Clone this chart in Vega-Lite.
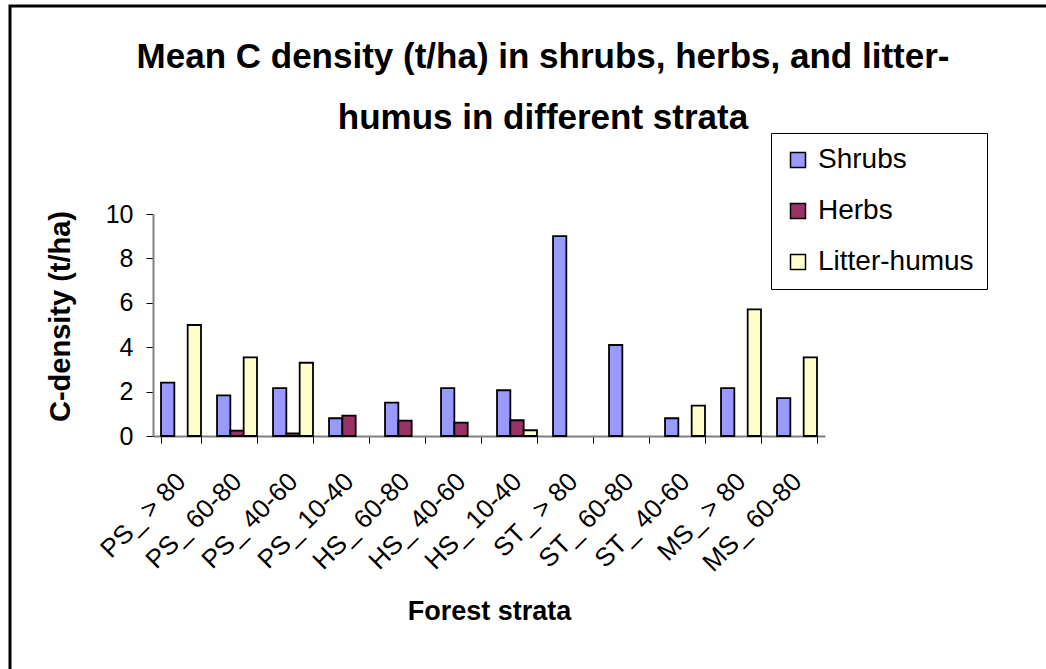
{
  "$schema": "https://vega.github.io/schema/vega-lite/v6.json",
  "width": 672,
  "height": 222,
  "autosize": {"type": "none"},
  "padding": {"left": 153, "top": 214, "right": 221, "bottom": 233},
  "background": "white",
  "config": {
    "font": "Liberation Sans",
    "view": {"stroke": null},
    "axis": {"labelColor": "black", "titleColor": "black", "labelFont": "Liberation Sans", "titleFont": "Liberation Sans"},
    "legend": {"strokeColor": "black", "padding": 13, "fillColor": "white"}
  },
  "title": {
    "text": ["Mean C density (t/ha) in shrubs, herbs, and litter-", "humus in different strata"],
    "font": "Liberation Sans",
    "fontSize": 35,
    "fontWeight": "bold",
    "color": "black",
    "anchor": "middle",
    "frame": "group",
    "dx": 54,
    "dy": 166,
    "lineHeight": 61,
    "baseline": "bottom",
    "offset": 0
  },
  "layer": [
    {
      "data": {"values": [{"frame": "chart border"}]},
      "mark": {"type": "rect", "fill": null, "stroke": "black", "strokeWidth": 3},
      "encoding": {
        "x": {"value": -143},
        "x2": {"value": 1000},
        "y": {"value": -208},
        "y2": {"value": 600}
      }
    },
    {
      "data": {
        "values": [
          {"stratum": "PS_ > 80", "component": "Shrubs", "c": 2.4},
          {"stratum": "PS_ > 80", "component": "Herbs", "c": 0},
          {"stratum": "PS_ > 80", "component": "Litter-humus", "c": 5.0},
          {"stratum": "PS_ 60-80", "component": "Shrubs", "c": 1.83},
          {"stratum": "PS_ 60-80", "component": "Herbs", "c": 0.24},
          {"stratum": "PS_ 60-80", "component": "Litter-humus", "c": 3.54},
          {"stratum": "PS_ 40-60", "component": "Shrubs", "c": 2.16},
          {"stratum": "PS_ 40-60", "component": "Herbs", "c": 0.12},
          {"stratum": "PS_ 40-60", "component": "Litter-humus", "c": 3.3},
          {"stratum": "PS_ 10-40", "component": "Shrubs", "c": 0.8},
          {"stratum": "PS_ 10-40", "component": "Herbs", "c": 0.92},
          {"stratum": "PS_ 10-40", "component": "Litter-humus", "c": 0},
          {"stratum": "HS_ 60-80", "component": "Shrubs", "c": 1.5},
          {"stratum": "HS_ 60-80", "component": "Herbs", "c": 0.69},
          {"stratum": "HS_ 60-80", "component": "Litter-humus", "c": 0},
          {"stratum": "HS_ 40-60", "component": "Shrubs", "c": 2.16},
          {"stratum": "HS_ 40-60", "component": "Herbs", "c": 0.6},
          {"stratum": "HS_ 40-60", "component": "Litter-humus", "c": 0},
          {"stratum": "HS_ 10-40", "component": "Shrubs", "c": 2.06},
          {"stratum": "HS_ 10-40", "component": "Herbs", "c": 0.71},
          {"stratum": "HS_ 10-40", "component": "Litter-humus", "c": 0.26},
          {"stratum": "ST_ > 80", "component": "Shrubs", "c": 9.0},
          {"stratum": "ST_ > 80", "component": "Herbs", "c": 0},
          {"stratum": "ST_ > 80", "component": "Litter-humus", "c": 0},
          {"stratum": "ST_ 60-80", "component": "Shrubs", "c": 4.1},
          {"stratum": "ST_ 60-80", "component": "Herbs", "c": 0},
          {"stratum": "ST_ 60-80", "component": "Litter-humus", "c": 0},
          {"stratum": "ST_ 40-60", "component": "Shrubs", "c": 0.8},
          {"stratum": "ST_ 40-60", "component": "Herbs", "c": 0},
          {"stratum": "ST_ 40-60", "component": "Litter-humus", "c": 1.37},
          {"stratum": "MS_ > 80", "component": "Shrubs", "c": 2.16},
          {"stratum": "MS_ > 80", "component": "Herbs", "c": 0},
          {"stratum": "MS_ > 80", "component": "Litter-humus", "c": 5.7},
          {"stratum": "MS_ 60-80", "component": "Shrubs", "c": 1.71},
          {"stratum": "MS_ 60-80", "component": "Herbs", "c": 0},
          {"stratum": "MS_ 60-80", "component": "Litter-humus", "c": 3.54}
        ]
      },
      "transform": [{"filter": "datum.c > 0"}],
      "mark": {"type": "bar", "stroke": "black", "strokeWidth": 1.8},
      "encoding": {
        "x": {
          "field": "stratum",
          "type": "nominal",
          "sort": ["PS_ > 80", "PS_ 60-80", "PS_ 40-60", "PS_ 10-40", "HS_ 60-80", "HS_ 40-60", "HS_ 10-40", "ST_ > 80", "ST_ 60-80", "ST_ 40-60", "MS_ > 80", "MS_ 60-80"],
          "scale": {"paddingInner": 0.286, "paddingOuter": 0.143},
          "axis": {
            "title": "Forest strata",
            "titleFontSize": 27,
            "titleFontWeight": "bold",
            "titleBaseline": "alphabetic",
            "titleY": 183,
            "labelAngle": -45,
            "labelAlign": "right",
            "labelBaseline": "middle",
            "labelFontSize": 26,
            "labelPadding": 34,
            "tickBand": "extent",
            "tickSize": 7,
            "tickColor": "black",
            "domainColor": "#808080",
            "domainWidth": 2
          }
        },
        "xOffset": {
          "field": "component",
          "type": "nominal",
          "sort": ["Shrubs", "Herbs", "Litter-humus"],
          "scale": {"domain": ["Shrubs", "Herbs", "Litter-humus"], "paddingInner": 0, "paddingOuter": 0}
        },
        "y": {
          "field": "c",
          "type": "quantitative",
          "scale": {"domain": [0, 10], "nice": false},
          "axis": {
            "title": "C-density (t/ha)",
            "titleFontSize": 29,
            "titleFontWeight": "bold",
            "titleAngle": -90,
            "titleBaseline": "middle",
            "titleAlign": "center",
            "titleX": -93,
            "titleY": 102,
            "values": [0, 2, 4, 6, 8, 10],
            "grid": false,
            "labelFontSize": 25,
            "labelPadding": 13,
            "tickSize": 7,
            "tickColor": "black",
            "domainColor": "#808080",
            "domainWidth": 2
          }
        },
        "color": {
          "field": "component",
          "type": "nominal",
          "scale": {"domain": ["Shrubs", "Herbs", "Litter-humus"], "range": ["#9999FF", "#993366", "#FFFFCC"]},
          "legend": {
            "title": null,
            "orient": "none",
            "legendX": 618,
            "legendY": -81,
            "symbolType": "square",
            "symbolSize": 225,
            "symbolStrokeColor": "black",
            "symbolStrokeWidth": 1.5,
            "labelFontSize": 28,
            "labelColor": "black",
            "labelOffset": 6,
            "rowPadding": 23
          }
        }
      }
    }
  ]
}
